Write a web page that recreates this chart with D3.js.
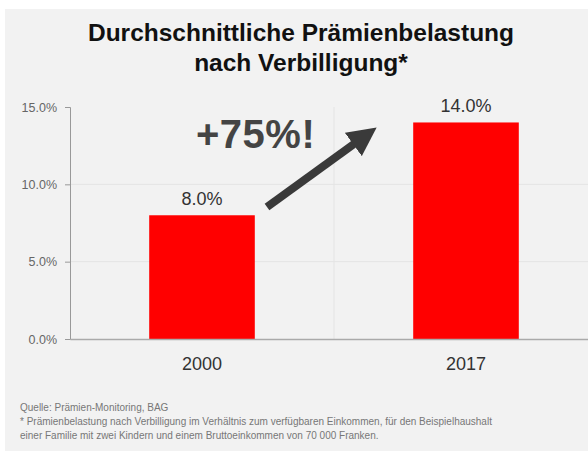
<!DOCTYPE html>
<html><head><meta charset="utf-8">
<script src="https://cdn.jsdelivr.net/npm/d3@7"></script>
<style>
html,body{margin:0;padding:0;background:#fff;}
svg{display:block;font-family:"Liberation Sans",Arial,Helvetica,sans-serif;}
</style></head>
<body>
<script>
const categories = ["2000", "2017"];
const values = [8.0, 14.0];
const yTicks = [0, 5, 10, 15];
const titleLines = ["Durchschnittliche Prämienbelastung", "nach Verbilligung*"];
const annotation = "+75%!";
const footnotes = [
  "Quelle: Prämien-Monitoring, BAG",
  "*  Prämienbelastung nach Verbilligung im Verhältnis zum verfügbaren Einkommen, für den Beispielhaushalt",
  "einer Familie mit zwei Kindern und einem Bruttoeinkommen von 70 000 Franken."
];

const W = 588, H = 451;
const svg = d3.select("body").append("svg").attr("width", W).attr("height", H);
svg.append("rect").attr("x", 5).attr("y", 9).attr("width", W - 5).attr("height", H - 9).attr("fill", "#f2f2f2");

const x = d3.scaleBand().domain(categories).range([70, 598]).paddingInner(0.6).paddingOuter(0.3);
const y = d3.scaleLinear().domain([0, 15]).range([339, 107]);

// grid
svg.append("g").selectAll("line").data(yTicks.filter(d => d > 0 && d < 15)).join("line")
  .attr("x1", 70).attr("x2", W).attr("y1", d => y(d)).attr("y2", d => y(d))
  .attr("stroke", "#e4e4e4").attr("stroke-width", 1);
const midX = (x("2000") + x("2017") + x.bandwidth()) / 2;
svg.append("line").attr("x1", midX).attr("x2", midX)
  .attr("y1", y(15)).attr("y2", y(0)).attr("stroke", "#e4e4e4");

// bars
svg.append("g").selectAll("rect").data(values).join("rect")
  .attr("x", (d, i) => x(categories[i])).attr("width", x.bandwidth())
  .attr("y", d => y(d)).attr("height", d => y(0) - y(d)).attr("fill", "#ff0000");

// value labels
svg.append("g").selectAll("text").data(values).join("text")
  .attr("x", (d, i) => x(categories[i]) + x.bandwidth() / 2).attr("y", d => y(d) - 10)
  .attr("text-anchor", "middle").attr("font-size", 18).attr("fill", "#333")
  .text(d => d.toFixed(1) + "%");

// y axis
const ya = svg.append("g").attr("transform", "translate(70,0)")
  .call(d3.axisLeft(y).tickValues(yTicks).tickFormat(d => d.toFixed(1) + "%").tickSize(5).tickPadding(8));
ya.select(".domain").attr("stroke", "#999");
ya.selectAll(".tick line").attr("stroke", "#999");
ya.selectAll("text").attr("font-size", 12.5).attr("fill", "#666").attr("font-family", "Liberation Sans, Arial, sans-serif");

// x axis
const xa = svg.append("g").attr("transform", "translate(0,339)")
  .call(d3.axisBottom(x).tickSize(0).tickPadding(18));
xa.select(".domain").attr("stroke", "#aaa").attr("stroke-width", 1.5);
xa.selectAll("text").attr("font-size", 18).attr("fill", "#333").attr("font-family", "Liberation Sans, Arial, sans-serif");

// title
svg.append("g").selectAll("text").data(titleLines).join("text")
  .attr("x", 301).attr("y", (d, i) => 41 + i * 30).attr("text-anchor", "middle")
  .attr("font-size", 24.5).attr("font-weight", "bold").attr("fill", "#111")
  .text(d => d);

// annotation
svg.append("text").attr("x", 196).attr("y", 148).attr("font-size", 40).attr("font-weight", "bold")
  .attr("letter-spacing", 0.5).attr("fill", "#444").text(annotation);

// arrow
svg.append("defs").append("marker").attr("id", "ah").attr("viewBox", "0 0 10 10")
  .attr("refX", 5).attr("refY", 5).attr("markerWidth", 3.6).attr("markerHeight", 3.6)
  .attr("orient", "auto").attr("markerUnits", "strokeWidth")
  .append("path").attr("d", "M0,0 L10,5 L0,10 Z").attr("fill", "#3a3a3a");
svg.append("line").attr("x1", 267).attr("y1", 207).attr("x2", 365).attr("y2", 136)
  .attr("stroke", "#3a3a3a").attr("stroke-width", 8).attr("marker-end", "url(#ah)");

// footnotes
svg.append("g").selectAll("text").data(footnotes).join("text")
  .attr("x", 20).attr("y", (d, i) => 411 + i * 14)
  .attr("font-size", 10).attr("fill", "#777").text(d => d);
</script>
</body></html>
